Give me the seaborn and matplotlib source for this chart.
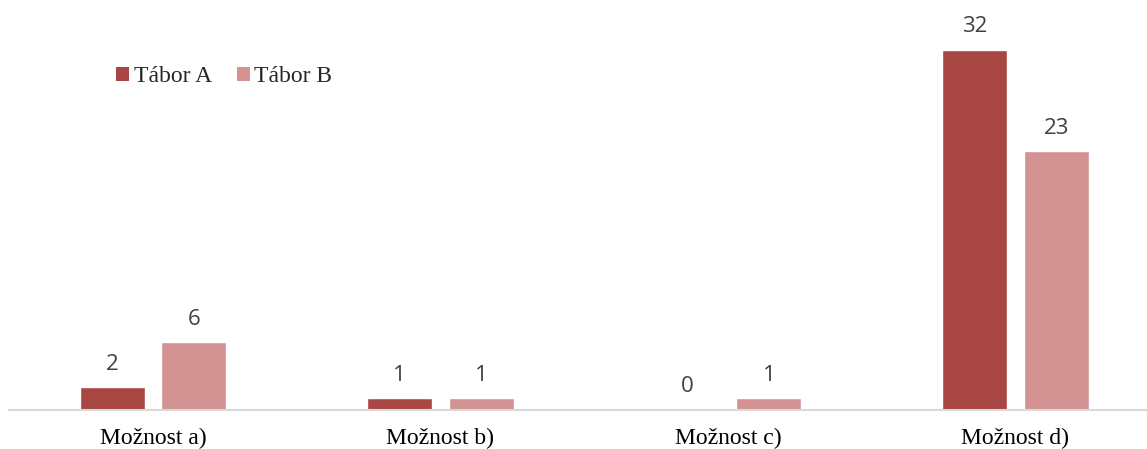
import matplotlib
matplotlib.use("Agg")
import matplotlib.pyplot as plt
import seaborn as sns
import pandas as pd
from matplotlib.patches import Patch

categories = ["Možnost a)", "Možnost b)", "Možnost c)", "Možnost d)"]
series_names = ["Tábor A", "Tábor B"]
tabor_a = [2, 1, 0, 32]
tabor_b = [6, 1, 1, 23]
colors = ["#A84644", "#D29392"]

df = pd.DataFrame({
    "kategorie": categories * 2,
    "tabor": [series_names[0]] * 4 + [series_names[1]] * 4,
    "pocet": tabor_a + tabor_b,
})

sns.set_theme(style="white")
fig = plt.figure(figsize=(11.47, 4.49), dpi=100)
ax = fig.add_axes([9.25 / 1147, 39.5 / 449, 1150 / 1147, 409.5 / 449])

sns.barplot(data=df, x="kategorie", y="pocet", hue="tabor",
            hue_order=series_names, palette=colors, order=categories,
            width=0.570, gap=0.207, saturation=1, legend=False, ax=ax,
            errorbar=None)

ax.set_ylim(0, 32 * 409.5 / 359.5)
ax.set_xlim(-0.5, 3.5)
for c in ax.containers:
    ax.bar_label(c, fmt="%d", padding=9, fontsize=16, color="#404040",
                 family="Open Sans")

for s in ["top", "right", "left"]:
    ax.spines[s].set_visible(False)
ax.spines["bottom"].set_color("#D9D9D9")
ax.spines["bottom"].set_linewidth(1.5)
ax.set_yticks([])
ax.set_xlabel("")
ax.set_ylabel("")
ax.tick_params(axis="x", length=0, pad=13)
for lbl in ax.get_xticklabels():
    lbl.set_fontfamily("Liberation Serif")
    lbl.set_fontsize(17)
    lbl.set_color("black")

handles = [Patch(facecolor=col, edgecolor="none") for col in colors]
leg = fig.legend(handles, series_names, loc="center left",
                 bbox_to_anchor=(116 / 1147, 1 - 77 / 449), frameon=False,
                 ncol=2, handlelength=0.55, handleheight=0.55,
                 handletextpad=0.2, columnspacing=1.05, borderpad=0,
                 borderaxespad=0,
                 prop={"family": "Liberation Serif", "size": 17})

fig.savefig("out.png", dpi=100)
